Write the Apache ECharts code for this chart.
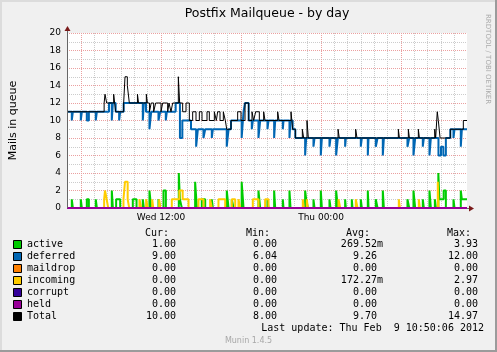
<!DOCTYPE html>
<html><head><meta charset="utf-8">
<script src="https://cdn.jsdelivr.net/npm/echarts@6/dist/echarts.min.js"></script>
<style>html,body{margin:0;padding:0;background:#f0f0f0}#c{width:497px;height:352px}</style>
</head><body><div id="c"></div>
<script>
// ---------- data (x = hours since Wed 00:00) ----------
const chartTitle = 'Postfix Mailqueue - by day';
const yAxisTitle = 'Mails in queue';
const sideText = 'RRDTOOL / TOBI OETIKER';
const windowStart = 4.95, windowEnd = 34.95;
const yMin = 0, yMax = 20;
const xMinorHours = [5,6,7,8,9,10,11,12,13,14,15,16,17,18,19,20,21,22,23,24,25,26,27,28,29,30,31,32,33,34];
const xMajorHours = [6,12,18,24,30];
const xLabelHours = [12,24];
const xLabelTexts = ['Wed 12:00','Thu 00:00'];

const seriesNames = ['active','deferred','maildrop','incoming','corrupt','held','Total'];
const seriesColors = ['#00CC00','#0066B3','#FF8000','#FFCC00','#330099','#990099','#000000'];

const active = [[4.95,0],[5.31,1],[5.39,0],[5.985,1],[6.065,0],[6.435,1],[6.59,0],[7.11,1],[7.19,0],
 [8.31,2],[8.39,0],[8.635,1],[8.94,0],[9.885,1],[10.165,0],[10.635,1],[10.715,0],
 [11.135,2],[11.265,0],[11.81,1],[11.94,0],[12.185,2],[12.365,0],[13.335,4],[13.415,1],[13.565,0],
 [14.56,3],[14.69,0],[15.06,1],[15.315,0],[15.81,1],[15.89,0],[16.935,2],[17.065,0],[17.31,1],[17.44,0],
 [18.05,3],[18.19,0],[19.31,2],[19.44,0],[19.985,1],[20.065,0],[20.485,2],[20.565,0],[21.135,1],[21.19,0],
 [21.635,2],[21.715,0],[22.81,2],[22.89,1],[23.015,0],[23.435,1],[23.515,0],[23.985,2],[24.065,0],
 [24.635,1],[24.715,0],[25.135,2],[25.265,0],[25.81,1],[25.865,0],[26.31,1],[26.365,0],[26.985,1],[27.065,0],
 [27.51,2],[27.565,0],[28.11,1],[28.24,0],[28.635,2],[28.715,0],[30.485,1],[30.615,0],[30.935,2],[31.065,0],
 [31.635,1],[31.715,0],[32.135,2],[32.24,0],[32.54,1],[32.62,0],[32.8,4],[32.88,1],[33.2,2],[33.365,0],
 [33.935,1],[34.015,0],[34.485,2],[34.565,1],[34.95,1]];

const deferred = [[4.95,11],[5.31,10],[5.39,11],[5.985,10],[6.065,11],[6.435,10],[6.59,11],[7.11,10],[7.19,11],
 [8.1,12],[8.31,10],[8.39,12],[8.6,11],[8.86,10],[8.94,11],[9.2,12],[10.635,10],[10.715,12],[10.875,11],
 [11.135,9],[11.265,11],[11.81,10],[11.94,11],[12.36,10],[12.44,11],[13.1,12],[13.42,8],[13.6,10],[14.25,9],
 [14.635,7],[14.765,9],[15.185,8],[15.315,9],[15.81,8],[15.89,9],[16.93,7],[17.07,9],[17.25,10],
 [18.05,8],[18.19,11],[18.3,12],[18.575,10],[18.81,9],[18.89,10],[19.31,8],[19.44,10],[19.985,9],[20.065,10],
 [20.485,8],[20.565,10],[21.135,9],[21.19,10],[21.635,8],[21.715,10],[21.875,9],[22.075,8],[22.81,6],[22.89,8],
 [23.435,7],[23.515,8],[23.985,6],[24.065,8],[24.635,7],[24.715,8],[25.135,6],[25.265,8],[25.81,7],[25.865,8],
 [26.985,7],[27.065,8],[27.51,6],[27.565,8],[28.11,7],[28.24,8],[28.635,6],[28.715,8],[30.485,7],[30.615,8],
 [30.935,6],[31.065,8],[31.635,7],[31.715,8],[32.135,6],[32.24,8],[32.81,6],[33.0,7],[33.175,6],[33.365,8],
 [33.7,9],[33.935,8],[34.015,9],[34.485,7],[34.565,9],[34.95,9]];

const maildrop = [[4.95,0],[34.95,0]];

const incoming = [[4.95,0],[7.735,1],[7.8,2],[7.925,1],[8.04,0],[9.185,1],[9.3,3],[9.5,1],[9.615,0],
 [10.385,1],[10.515,0],[10.885,1],[11.015,0],[11.34,1],[11.42,0],[11.86,1],[11.94,0],[12.81,1],[13.375,2],
 [13.625,1],[14.065,0],[14.81,1],[15.19,0],[15.685,1],[15.815,0],[16.31,1],[16.815,0],[17.31,1],[17.565,0],
 [17.81,1],[17.94,0],[18.885,1],[19.315,0],[19.81,1],[20.065,0],[22.635,1],[22.715,0],[22.935,1],[23.015,0],
 [25.31,1],[25.44,0],[26.61,1],[26.74,0],[29.835,1],[29.915,0],[31.335,1],[31.415,0],[32.76,3],[32.815,0],[34.95,0]];

const corrupt = [[4.95,0],[34.95,0]];
const held = [[4.95,0],[34.95,0]];

const total = [[4.95,11],[7.735,12],[7.8,13],[7.925,12],[8.45,13],[8.6,11],[9.2,12],[9.3,15],[9.475,14],[9.625,12],
 [10.235,13],[10.315,12],[10.9,13],[10.98,12],[11.135,11],[11.265,12],[11.45,11],[11.6,12],[12.0,11],[12.125,12],
 [12.5,11],[12.6,12],[12.75,11],[12.875,12],[13.3,15],[13.4,12],[13.625,11],[13.875,12],[14.125,10],[14.375,11],
 [14.625,10],[14.875,11],[15.075,10],[15.45,11],[15.625,10],[16.0,11],[16.15,10],[16.25,11],[16.425,10],[16.675,11],
 [16.825,10],[16.93,9],[17.25,10],[17.75,11],[18.0,10],[18.3,12],[18.575,10],[18.825,11],[18.95,10],[19.1,11],
 [19.375,10],[19.7,11],[19.8,10],[20.75,11],[20.85,10],[21.75,11],[21.875,9],[22.075,8],[22.6,9],[22.7,8],
 [22.95,10],[23.05,8],[25.28,9],[25.37,8],[26.6,9],[26.7,8],[29.8,9],[29.88,8],[30.55,9],[30.63,8],[31.3,9],
 [31.38,8],[32.53,9],[32.6,8],[32.72,11],[32.8,10],[32.93,8],[33.7,9],[34.675,10],[34.95,10]];

const legendHeaders = ['Cur:','Min:','Avg:','Max:'];
const curValues = ['1.00','9.00','0.00','0.00','0.00','0.00','10.00'];
const minValues = ['0.00','6.04','0.00','0.00','0.00','0.00','8.00'];
const avgValues = ['269.52m','9.26 ','0.00 ','172.27m','0.00 ','0.00 ','9.70 '];
const maxValues = ['3.93','12.00','0.00','2.97','0.00','0.00','14.97'];
const lastUpdate = 'Last update: Thu Feb  9 10:50:06 2012';
const footer = 'Munin 1.4.5';

// ---------- chart ----------
const seriesData = [active, deferred, maildrop, incoming, corrupt, held, total];
const chart = echarts.init(document.getElementById('c'), null, {renderer:'canvas'});
const gridCfg = {left:67, right:30, top:33, bottom:144};
const dot = [1,1];

const option = {
  backgroundColor:'#f0f0f0',
  animation:false,
  grid:[Object.assign({show:true, backgroundColor:'#ffffff', borderWidth:0}, gridCfg)],
  xAxis:[
    {type:'value', min:windowStart, max:windowEnd, position:'top',
     axisLine:{show:false}, axisLabel:{show:false},
     axisTick:{show:false, customValues:xMinorHours},
     splitLine:{show:true, lineStyle:{color:'#cccccc', type:dot, width:1}}},
    {type:'value', min:windowStart, max:windowEnd, position:'bottom',
     axisLine:{show:false},
     axisTick:{show:false, customValues:xMajorHours},
     axisLabel:{show:true, customValues:xLabelHours, margin:5, color:'#000', fontFamily:'DejaVu Sans', fontSize:9,
       formatter:(v)=>{const i=xLabelHours.indexOf(v); return i>=0?xLabelTexts[i]:'';}},
     splitLine:{show:true, lineStyle:{color:'#eba0a0', type:dot, width:1}}}
  ],
  yAxis:[{type:'value', min:yMin, max:yMax, interval:2,
     axisLine:{show:false}, axisTick:{show:false},
     axisLabel:{color:'#000', fontFamily:'DejaVu Sans', fontSize:9, margin:6},
     splitLine:{show:true, lineStyle:{color:'#eba0a0', type:dot, width:1}},
     minorTick:{show:false, splitNumber:2},
     minorSplitLine:{show:true, lineStyle:{color:'#cccccc', type:dot, width:1}}}],
  series: seriesNames.map((n,i)=>({
    name:n, type:'line', step:'end', xAxisIndex:0, yAxisIndex:0,
    data:seriesData[i], showSymbol:false, symbol:'none', silent:true,
    lineStyle:{color:seriesColors[i], width: n==='Total'?1:2},
    itemStyle:{color:seriesColors[i]}, z:2+i*0.01
  }))
};
chart.setOption(option);

// decorations: axes with arrows, texts, legend table, frame
const o = chart.convertToPixel({gridIndex:0},[windowStart,yMin]);
const e = chart.convertToPixel({gridIndex:0},[windowEnd,yMax]);
const axisColor = '#666666', arrowColor = '#7a1a1a';
const g = [];
g.push({type:'line', shape:{x1:o[0]+0.5,y1:o[1],x2:o[0]+0.5,y2:e[1]-2}, style:{stroke:axisColor,lineWidth:1}, z:50});
g.push({type:'polygon', shape:{points:[[o[0]-2.5,e[1]-2],[o[0]+3.5,e[1]-2],[o[0]+0.5,e[1]-7]]}, style:{fill:arrowColor}, z:50});
g.push({type:'line', shape:{x1:o[0],y1:o[1]+0.5,x2:e[0]+2,y2:o[1]+0.5}, style:{stroke:axisColor,lineWidth:1}, z:1});
g.push({type:'polygon', shape:{points:[[e[0]+2,o[1]-2.5],[e[0]+2,o[1]+3.5],[e[0]+7,o[1]+0.5]]}, style:{fill:arrowColor}, z:50});
// title & axis titles
g.push({type:'text', x:(o[0]+e[0])/2, y:14, style:{text:chartTitle, font:'12.5px "DejaVu Sans"', fill:'#000', align:'center', verticalAlign:'middle'}, z:50});
g.push({type:'text', x:13, y:(o[1]+e[1])/2, rotation:Math.PI/2, style:{text:yAxisTitle, font:'11px "DejaVu Sans"', fill:'#000', align:'center', verticalAlign:'middle'}, z:50});
g.push({type:'text', x:488, y:14, rotation:-Math.PI/2, style:{text:sideText, font:'7px "DejaVu Sans"', fill:'#aaaaaa', align:'left', verticalAlign:'middle'}, z:50});
// legend
const mono = '10px "DejaVu Sans Mono"';
const headerRight = [169,270,370,471];
const valueRight = [176,277,383,478];
const headerY = 233, rowY0 = 244.5, rowH = 12;
legendHeaders.forEach((h,i)=>g.push({type:'text', x:headerRight[i], y:headerY, style:{text:h, font:mono, fill:'#000', align:'right', verticalAlign:'middle'}}));
const cols = [curValues,minValues,avgValues,maxValues];
seriesNames.forEach((n,r)=>{
  const y = rowY0 + r*rowH;
  g.push({type:'rect', shape:{x:13.5,y:Math.round(y)-4.5,width:8,height:8}, style:{fill:seriesColors[r], stroke:'#000', lineWidth:1}});
  g.push({type:'text', x:27, y:y, style:{text:n, font:mono, fill:'#000', align:'left', verticalAlign:'middle'}});
  cols.forEach((c,ci)=>g.push({type:'text', x:valueRight[ci], y:y, style:{text:c[r], font:mono, fill:'#000', align:'right', verticalAlign:'middle'}}));
});
g.push({type:'text', x:484, y:rowY0+7*rowH, style:{text:lastUpdate, font:mono, fill:'#000', align:'right', verticalAlign:'middle'}});
g.push({type:'text', x:248.5, y:341, style:{text:footer, font:'8px "DejaVu Sans"', fill:'#a8a8a8', align:'center', verticalAlign:'middle'}});
// frame
g.push({type:'rect', shape:{x:0,y:0,width:497,height:2}, style:{fill:'#dcdcdc'}});
g.push({type:'rect', shape:{x:0,y:0,width:2,height:352}, style:{fill:'#dcdcdc'}});
g.push({type:'rect', shape:{x:495,y:0,width:2,height:352}, style:{fill:'#9b9b9b'}});
g.push({type:'rect', shape:{x:0,y:350,width:497,height:2}, style:{fill:'#9b9b9b'}});
chart.setOption({graphic:{elements:g}});
</script></body></html>
